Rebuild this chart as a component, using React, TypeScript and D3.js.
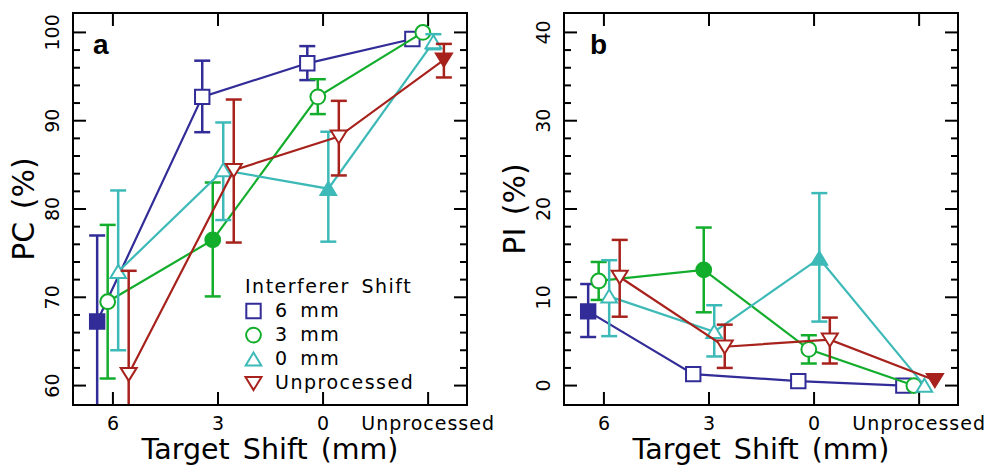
import * as d3 from 'd3';

const categories = ['6', '3', '0', 'Unprocessed'];
const seriesNames = ['6 mm', '3 mm', '0 mm', 'Unprocessed'];
const seriesColors = ['#312C97', '#13AD2C', '#3DBAB8', '#A7221C'];
const seriesShapes = ['square', 'circle', 'triangleUp', 'triangleDown'];
// category index where each series is drawn filled
const filledAt = [0, 1, 2, 3];

// panel a: PC (%)
const pc6 = [67.25, 92.7, 96.5, 99.25];
const pc6Lo = [57.5, 88.7, 94.6, null];
const pc6Hi = [77.0, 96.8, 98.45, null];
const pc3 = [69.5, 76.5, 92.7, 100.0];
const pc3Lo = [60.8, 70.1, 90.75, null];
const pc3Hi = [78.2, 83.0, 94.7, null];
const pc0 = [72.9, 84.4, 82.3, 98.9];
const pc0Lo = [64.0, 78.75, 76.3, 98.1];
const pc0Hi = [82.1, 89.8, 88.75, 99.8];
const pcU = [61.3, 84.4, 88.2, 96.9];
const pcULo = [49.6, 76.2, 83.8, 94.9];
const pcUHi = [73.0, 92.4, 92.25, 98.7];

// panel b: PI (%)
const pi6 = [8.4, 1.3, 0.5, 0.0];
const pi6Lo = [5.5, null, null, null];
const pi6Hi = [11.5, null, null, null];
const pi3 = [11.85, 13.1, 4.1, 0.0];
const pi3Lo = [9.7, 8.3, 2.5, null];
const pi3Hi = [14.0, 17.9, 5.7, null];
const pi0 = [10.1, 6.1, 14.4, 0.0];
const pi0Lo = [5.6, 3.3, 7.25, null];
const pi0Hi = [14.2, 9.1, 21.8, null];
const piU = [12.3, 4.4, 5.2, 0.6];
const piULo = [7.8, 2.0, 2.5, null];
const piUHi = [16.5, 6.9, 7.7, null];

const pcTicks = [60, 70, 80, 90, 100];
const piTicks = [0, 10, 20, 30, 40];

const offsets = [-0.15, -0.05, 0.05, 0.15];
const FONT = '"DejaVu Sans", sans-serif';

function markerPath(shape: string) {
  if (shape === 'square') return 'M-7.2,-7.2H7.2V7.2H-7.2Z';
  if (shape === 'circle') return d3.arc()({ innerRadius: 0, outerRadius: 7.4, startAngle: 0, endAngle: 2 * Math.PI }) as string;
  if (shape === 'triangleUp') return 'M0,-6.8L7.8,6.2L-7.8,6.2Z';
  return 'M0,6.8L8,-6.2L-8,-6.2Z';
}

type Series = { values: number[]; lo: (number | null)[]; hi: (number | null)[] };

function Panel({ id, left, yDomain, ticks, series, letter, letterDx, yTitle, legend }: any) {
  const top = 13, bottom = 405, width = 394;
  const x = d3.scaleLinear().domain([-0.38, 3.37]).range([left, left + width]);
  const y = d3.scaleLinear().domain(yDomain).range([bottom, top]);
  const minor = d3.range(ticks[0], ticks[ticks.length - 1] + 0.01, 2);
  const cx = left + width / 2;

  return (
    <g>
      <defs>
        <clipPath id={id}>
          <rect x={left} y={top} width={width} height={bottom - top} />
        </clipPath>
      </defs>
      {/* y ticks, both sides, pointing in */}
      {minor.map((t: number) => {
        const major = ticks.includes(t);
        const len = major ? 13 : 7;
        return (
          <g key={t} stroke="#000" strokeWidth={2}>
            <line x1={left} x2={left + len} y1={y(t)} y2={y(t)} />
            <line x1={left + width - len} x2={left + width} y1={y(t)} y2={y(t)} />
          </g>
        );
      })}
      {categories.map((c, i) => (
        <g key={c} stroke="#000" strokeWidth={2}>
          <line x1={x(i)} x2={x(i)} y1={top} y2={top + 13} />
          <line x1={x(i)} x2={x(i)} y1={bottom - 13} y2={bottom} />
        </g>
      ))}
      {ticks.map((t: number) => (
        <text key={t} transform={`translate(${left - 14},${y(t)}) rotate(-90)`} textAnchor="middle"
          fontFamily={FONT} fontSize={19} fill="#000">{t}</text>
      ))}
      {categories.map((c, i) => (
        <text key={c} x={x(i)} y={430} textAnchor="middle" fontFamily={FONT} fontSize={19}
          letterSpacing={c.length > 1 ? 1 : 0} fill="#000">{c}</text>
      ))}
      <text x={cx} y={459} textAnchor="middle" fontFamily={FONT} fontSize={28.5} fill="#000"
        wordSpacing={4}>Target Shift (mm)</text>
      <text transform={`translate(${left - 39},${(top + bottom) / 2}) rotate(-90)`} textAnchor="middle"
        fontFamily={FONT} fontSize={30} fill="#000" wordSpacing={3}>{yTitle}</text>
      <text x={left + letterDx} y={54} fontFamily='"Liberation Sans", Arial, sans-serif' fontWeight="bold"
        fontSize={28} fill="#000">{letter}</text>

      <g clipPath={`url(#${id})`}>
        {series.map((s: Series, k: number) => {
          const off = offsets[k];
          const line = d3.line<number>().x((_, i) => x(i + off)).y(d => y(d));
          return (
            <g key={k}>
              <path d={line(s.values) as string} fill="none" stroke={seriesColors[k]} strokeWidth={2.2} />
              {s.values.map((v, i) => {
                const lo = s.lo[i], hi = s.hi[i];
                if (lo == null || hi == null) return null;
                const px = x(i + off);
                return (
                  <g key={i} stroke={seriesColors[k]} strokeWidth={2.5}>
                    <line x1={px} x2={px} y1={y(lo)} y2={y(hi)} />
                    <line x1={px - 8} x2={px + 8} y1={y(lo)} y2={y(lo)} />
                    <line x1={px - 8} x2={px + 8} y1={y(hi)} y2={y(hi)} />
                  </g>
                );
              })}
              {s.values.map((v, i) => (
                <path key={'m' + i} d={markerPath(seriesShapes[k])}
                  transform={`translate(${x(i + off)},${y(v)})`}
                  fill={filledAt[k] === i ? seriesColors[k] : '#fff'}
                  stroke={seriesColors[k]} strokeWidth={2} />
              ))}
            </g>
          );
        })}
      </g>

      {legend && (
        <g fontFamily={FONT} fontSize={19} fill="#000" letterSpacing={1.5}>
          <text x={245} y={293} wordSpacing={4}>Interferer Shift</text>
          {seriesNames.map((n, k) => (
            <g key={n}>
              <path d={markerPath(seriesShapes[k])} transform={`translate(253.5,${311 + k * 24.1})`}
                fill="#fff" stroke={seriesColors[k]} strokeWidth={2} />
              <text x={275} y={317 + k * 24.1} wordSpacing={4}>{n}</text>
            </g>
          ))}
        </g>
      )}

      <rect x={left} y={top} width={width} height={bottom - top} fill="none" stroke="#000" strokeWidth={2} />
    </g>
  );
}

export default function App() {
  const pcSeries: Series[] = [
    { values: pc6, lo: pc6Lo, hi: pc6Hi },
    { values: pc3, lo: pc3Lo, hi: pc3Hi },
    { values: pc0, lo: pc0Lo, hi: pc0Hi },
    { values: pcU, lo: pcULo, hi: pcUHi },
  ];
  const piSeries: Series[] = [
    { values: pi6, lo: pi6Lo, hi: pi6Hi },
    { values: pi3, lo: pi3Lo, hi: pi3Hi },
    { values: pi0, lo: pi0Lo, hi: pi0Hi },
    { values: piU, lo: piULo, hi: piUHi },
  ];
  return (
    <svg width={989} height={467} style={{ position: 'absolute', left: 0, top: 0, background: '#fff' }}>
      <Panel id="clipA" left={73} yDomain={[57.8, 102.2]} ticks={pcTicks} series={pcSeries}
        letter="a" letterDx={20} yTitle="PC (%)" legend />
      <Panel id="clipB" left={564} yDomain={[-2.2, 42.2]} ticks={piTicks} series={piSeries}
        letter="b" letterDx={26} yTitle="PI (%)" legend={false} />
    </svg>
  );
}
